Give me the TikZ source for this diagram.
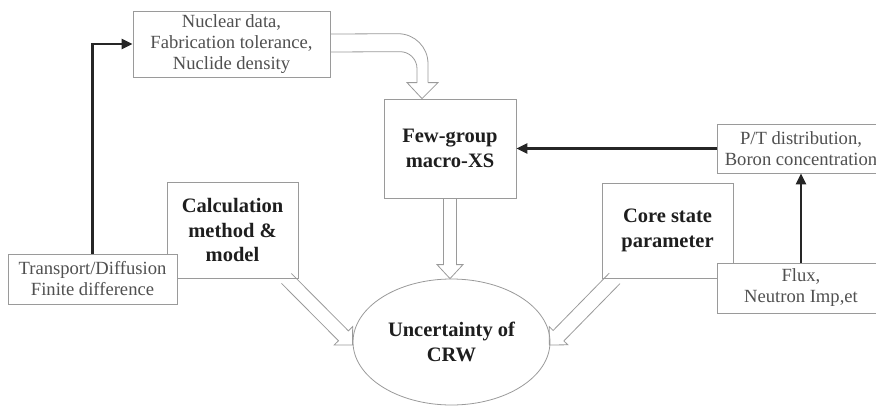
\documentclass[tikz,border=0pt]{standalone}
\usepackage{fontspec}
\setmainfont{Liberation Serif}
\usetikzlibrary{shapes.geometric,arrows.meta,calc}
\definecolor{boxgray}{HTML}{9A9A9A}
\definecolor{txtgray}{HTML}{505050}
\definecolor{boldtxt}{HTML}{1E1E1E}
\tikzset{
  box/.style={draw=boxgray, line width=0.8pt, fill=white, inner sep=0pt, align=center,
    text=txtgray, font=\fontsize{18.6}{21}\selectfont},
  bbox/.style={box, text=boldtxt, font=\fontsize{20.5}{24.5}\selectfont\bfseries},
  thickarrow/.style={line width=2.6pt, draw=black!85, -{Triangle[length=11pt,width=10pt]}},
  hollow/.style={draw=boxgray, line width=0.8pt},
}
% hollow block arrow: start, end, shaft half width, head half width, head length
\newcommand\hollowarrow[5]{%
  \coordinate (ha) at (#1);
  \coordinate (hb) at (#2);
  \coordinate (hh) at ($(hb)!#5!(ha)$);
  \draw[hollow] ($(ha)!#3!90:(hb)$) -- ($(hh)!#3!90:(hb)$) -- ($(hh)!#4!90:(hb)$) -- (hb)
    -- ($(hh)!#4!-90:(hb)$) -- ($(hh)!#3!-90:(hb)$) -- ($(ha)!#3!-90:(hb)$);
}
\begin{document}
\begin{tikzpicture}[x=1pt,y=-1pt]
\useasboundingbox (0,0) rectangle (876,407);
\clip (0,0) rectangle (876,407);

\node[box, minimum width=197pt, minimum height=66pt] (nuc) at (231.5,44)
  {Nuclear data,\\Fabrication tolerance,\\Nuclide density};
\node[bbox, minimum width=132pt, minimum height=99pt] (few) at (450,148.5)
  {Few-group\\macro-XS};
\node[box, minimum width=168pt, minimum height=49pt] (pt) at (801,148.5)
  {P/T distribution,\\Boron concentration};
\node[bbox, minimum width=131pt, minimum height=96pt] (calc) at (232.5,230)
  {Calculation\\method \&\\model};
\node[box, minimum width=169pt, minimum height=50pt] (trans) at (92.5,279)
  {Transport/Diffusion\\Finite difference};
\node[bbox, minimum width=131pt, minimum height=95pt] (core) at (667.5,230.5)
  {Core state\\parameter};
\node[box, minimum width=168pt, minimum height=50pt] (flux) at (801,288)
  {Flux,\\Neutron Imp,et};
\node[bbox, ellipse, minimum width=197pt, minimum height=126pt] (ell) at (451.5,342)
  {Uncertainty of\\CRW};

% thick connectors
\draw[thickarrow] (trans.north) |- (nuc.west);
\draw[thickarrow] (pt.west) -- (few.east);
\draw[thickarrow] (flux.north) -- (pt.south);

% curved hollow arrow from nuclear data to few-group
\coordinate (ctip) at ($(few.north)+(-28,0)$);
\draw[hollow, rounded corners=30pt] ($(nuc.east)+(0,-10)$) -- ($(ctip)+(6,-65)$) -- ($(ctip)+(6,-16)$);
\draw[hollow, rounded corners=17pt] ($(nuc.east)+(0,8)$) -- ($(ctip)+(-5,-47)$) -- ($(ctip)+(-5,-16)$);
\draw[hollow] ($(ctip)+(6,-16)$) -- ($(ctip)+(16,-16)$) -- (ctip) -- ($(ctip)+(-15,-16)$) -- ($(ctip)+(-5,-16)$);

% straight hollow arrows into the ellipse
\hollowarrow{few.south}{few.south |- ell.north}{6.5pt}{13pt}{14pt}
\hollowarrow{$(calc.south east)+(-12,0)$}{$(ell.west)+(0,3)$}{7pt}{13pt}{13pt}
\hollowarrow{$(core.south west)+(13,0)$}{$(ell.east)+(-1,3)$}{7.5pt}{13pt}{13pt}
\end{tikzpicture}
\end{document}
